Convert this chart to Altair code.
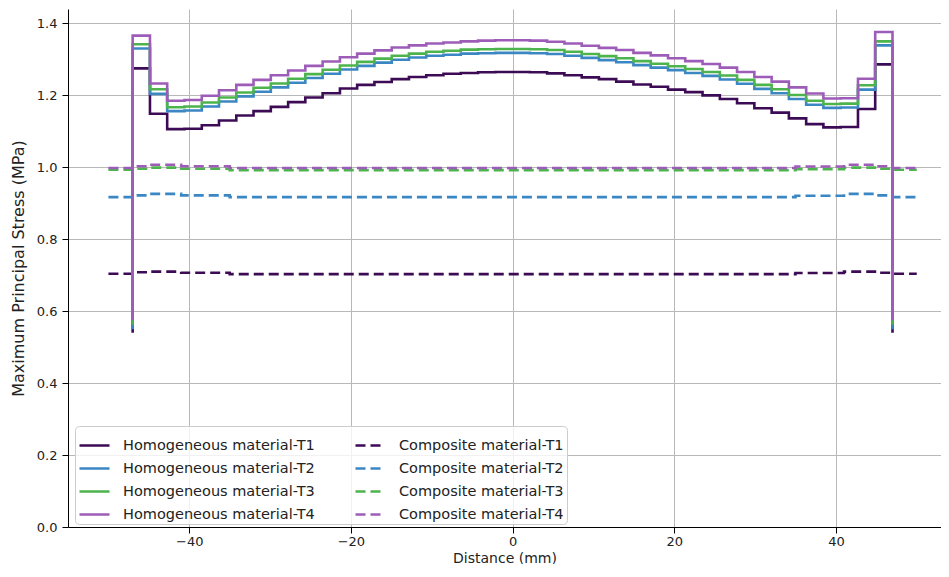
import altair as alt
import pandas as pd

# ---------------- data ----------------
H_NAMES = ["Homogeneous material-T1", "Homogeneous material-T2",
           "Homogeneous material-T3", "Homogeneous material-T4"]
C_NAMES = ["Composite material-T1", "Composite material-T2",
           "Composite material-T3", "Composite material-T4"]
COLORS = ["#3d0b55", "#3b87c3", "#4db34d", "#9d5cb8"]

# element edges (mm) for homogeneous model
H_EDGES = [-47.0, -44.86, -42.73, -40.59, -38.45, -36.32, -34.18, -32.05, -29.91,
           -27.77, -25.64, -23.50, -21.36, -19.23, -17.09, -14.95, -12.82, -10.68,
           -8.55, -6.41, -4.27, -2.14, 0.0, 2.14, 4.27, 6.41, 8.55, 10.68, 12.82,
           14.95, 17.09, 19.23, 21.36, 23.50, 25.64, 27.77, 29.91, 32.05, 34.18,
           36.32, 38.45, 40.59, 42.73, 44.86, 47.0]

H1 = [1.275, 1.149, 1.106, 1.107, 1.117, 1.130, 1.144, 1.156, 1.168, 1.181, 1.194,
      1.206, 1.219, 1.229, 1.237, 1.245, 1.251, 1.256, 1.260, 1.262, 1.264, 1.265,
      1.265, 1.264, 1.261, 1.256, 1.250, 1.245, 1.238, 1.230, 1.224, 1.216, 1.209,
      1.200, 1.190, 1.178, 1.164, 1.152, 1.136, 1.120, 1.111, 1.112, 1.162, 1.286]
H2 = [1.330, 1.204, 1.156, 1.158, 1.169, 1.183, 1.197, 1.210, 1.222, 1.235, 1.248,
      1.260, 1.272, 1.282, 1.291, 1.299, 1.305, 1.310, 1.313, 1.316, 1.317, 1.318,
      1.318, 1.317, 1.315, 1.310, 1.304, 1.298, 1.292, 1.284, 1.277, 1.270, 1.262,
      1.254, 1.244, 1.232, 1.218, 1.206, 1.190, 1.174, 1.165, 1.166, 1.216, 1.339]
H3 = [1.342, 1.217, 1.167, 1.169, 1.180, 1.194, 1.208, 1.221, 1.233, 1.246, 1.259,
      1.271, 1.283, 1.293, 1.302, 1.310, 1.316, 1.321, 1.324, 1.327, 1.328, 1.329,
      1.329, 1.328, 1.326, 1.321, 1.315, 1.309, 1.303, 1.295, 1.288, 1.281, 1.273,
      1.265, 1.255, 1.243, 1.229, 1.217, 1.201, 1.185, 1.176, 1.177, 1.228, 1.350]
H4 = [1.366, 1.233, 1.185, 1.187, 1.199, 1.214, 1.229, 1.243, 1.256, 1.269, 1.282,
      1.294, 1.306, 1.316, 1.325, 1.333, 1.339, 1.344, 1.347, 1.350, 1.352, 1.353,
      1.353, 1.352, 1.349, 1.344, 1.338, 1.332, 1.326, 1.318, 1.311, 1.303, 1.295,
      1.287, 1.277, 1.265, 1.251, 1.238, 1.222, 1.205, 1.191, 1.192, 1.246, 1.376]
H_END = [0.540, 0.550, 0.562, 0.575]   # value at the free ends (x = +-47)

# composite model (segment edges and values)
C_EDGES = [-50, -47, -45, -41, -35, -25, 25, 35, 41, 45, 47, 50]
C1 = [0.704, 0.708, 0.710, 0.707, 0.703, 0.703, 0.703, 0.706, 0.710, 0.707, 0.704]
C2 = [0.917, 0.922, 0.926, 0.922, 0.917, 0.917, 0.917, 0.921, 0.926, 0.922, 0.917]
C3 = [0.993, 0.996, 0.999, 0.996, 0.992, 0.992, 0.992, 0.995, 0.999, 0.996, 0.993]
C4 = [0.998, 1.003, 1.007, 1.003, 0.998, 0.998, 0.998, 1.002, 1.007, 1.003, 0.998]

X_TICKS = [-40, -20, 0, 20, 40]
Y_TICKS = [0.0, 0.2, 0.4, 0.6, 0.8, 1.0, 1.2, 1.4]

# ---------------- tables ----------------
h_rows = []
for name, vals, end in zip(H_NAMES, [H1, H2, H3, H4], H_END):
    pts = [(H_EDGES[0], end)]
    pts += [(H_EDGES[i], vals[i]) for i in range(len(vals))]
    pts += [(H_EDGES[-1], vals[-1]), (H_EDGES[-1], end)]
    for k, (x, y) in enumerate(pts):
        h_rows.append({"x": x, "y": y, "series": name, "idx": k})
h_df = pd.DataFrame(h_rows)

c_rows = []
for name, vals in zip(C_NAMES, [C1, C2, C3, C4]):
    pts = [(C_EDGES[i], vals[i]) for i in range(len(vals))]
    pts += [(C_EDGES[-1], vals[-1])]
    for k, (x, y) in enumerate(pts):
        c_rows.append({"x": x, "y": y, "series": name, "idx": k})
c_df = pd.DataFrame(c_rows)

# legend fills column by column: homogeneous first, then composite
domain = H_NAMES + C_NAMES
crange = COLORS + COLORS
drange = [[1, 0]] * 4 + [[10, 5]] * 4

FONT = "DejaVu Sans"

legend = alt.Legend(
    title=None, orient="none", legendX=7, legendY=417, columns=2,
    symbolType="stroke", symbolSize=900, symbolStrokeWidth=2.5,
    labelFont=FONT, labelFontSize=14.5, labelColor="#222222", labelLimit=0,
    labelOffset=12, columnPadding=35, rowPadding=-8, padding=3,
    strokeColor="#cccccc", fillColor="rgba(255,255,255,0.8)", cornerRadius=4,
)

x_enc = alt.X("x:Q", title="Distance (mm)",
              scale=alt.Scale(domain=[-55, 53], nice=False, zero=False),
              axis=alt.Axis(values=X_TICKS, format="d", titleY=31,
                            titleBaseline="middle", labelPadding=2,
                            titleFontSize=14))
y_enc = alt.Y("y:Q", title="Maximum Principal Stress (MPa)",
              scale=alt.Scale(domain=[0, 1.44], nice=False),
              axis=alt.Axis(values=Y_TICKS, format=".1f", titleX=-50,
                            titleBaseline="middle", labelPadding=5,
                            titleFontSize=16))
color_enc = alt.Color("series:N", scale=alt.Scale(domain=domain, range=crange),
                      legend=legend)
dash_enc = alt.StrokeDash("series:N", scale=alt.Scale(domain=domain, range=drange),
                          legend=legend)

comp = alt.Chart(c_df).mark_line(interpolate="step-after", strokeWidth=2.6).encode(
    x=x_enc, y=y_enc, color=color_enc, strokeDash=dash_enc, order="idx:Q")
homo = alt.Chart(h_df).mark_line(interpolate="step-after", strokeWidth=2.6).encode(
    x=x_enc, y=y_enc, color=color_enc, strokeDash=dash_enc, order="idx:Q")

chart = alt.layer(comp, homo).properties(
    width=873, height=518,
    autosize=alt.AutoSizeParams(type="none"),
    padding={"left": 60, "top": 1, "right": 0, "bottom": 37},
).configure_view(stroke=None).configure_axis(
    labelFont=FONT, labelFontSize=13, labelColor="#222222",
    titleFont=FONT, titleFontWeight="normal", titleColor="#222222",
    domainColor="#000000", domainWidth=1, tickColor="#000000", tickSize=6,
    gridColor="#b8b8b8", gridWidth=1,
)

chart.save("out.html", embed_options={"renderer": "svg", "actions": False})
